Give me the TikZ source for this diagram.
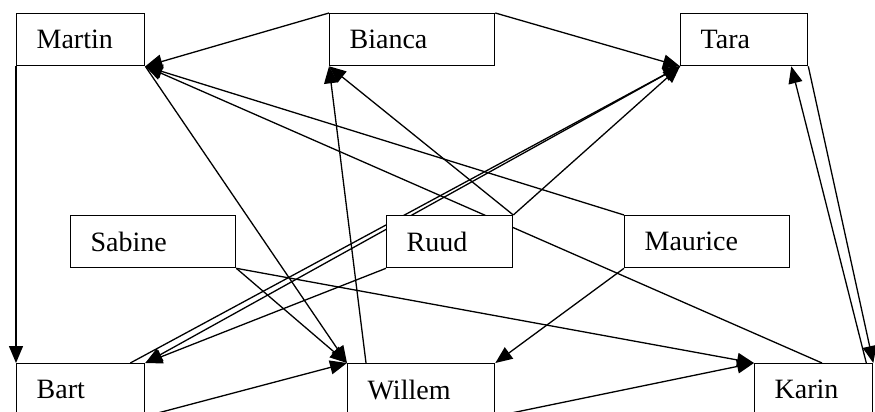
\documentclass[tikz,border=0pt]{standalone}
\usepackage{fontspec}
\setmainfont{Liberation Serif}
\usetikzlibrary{arrows.meta, backgrounds}

\begin{document}
\begin{tikzpicture}[x=1pt, y=-1pt,
        person/.style={draw, fill=white, line width=1.3pt, anchor=north west,
            minimum height=52pt, inner xsep=20pt, inner ysep=0pt, align=left,
            font=\fontsize{28}{30}\selectfont},
        rel/.style={line width=1.3pt, -{Triangle[length=17pt,width=14pt]}}]
        \useasboundingbox (0,0) rectangle (875,412);

        % top row
        \node[person, text width=88pt] (martin) at (16,13) {Martin};
        \node[person, text width=125pt] (bianca) at (329,13) {Bianca};
        \node[person, text width=87pt] (tara) at (680,13) {Tara};

        % middle row
        \node[person, text width=125pt] (sabine) at (70,215) {Sabine};
        \node[person, text width=86pt] (ruud) at (386,215) {Ruud};
        \node[person, text width=125pt] (maurice) at (624,215) {Maurice};

        % bottom row
        \node[person, text width=88pt] (bart) at (16,363) {Bart};
        \node[person, text width=107pt] (willem) at (347,363) {Willem};
        \node[person, text width=78pt] (karin) at (754,363) {Karin};

        \begin{pgfonlayer}{background}
        \draw[rel] (bianca.north west) -- (martin.south east);
        \draw[rel] (bianca.north east) -- (tara.south west);
        \draw[rel] (martin.south west) -- (bart.north west);
        \draw[rel] (maurice.north west) -- (martin.south east);
        \draw[rel] ([xshift=68pt]karin.north west) -- (martin.south east);
        \draw[rel] (martin.south east) -- (willem.north west);
        \draw[rel] ([xshift=19pt]willem.north west) -- (bianca.south west);
        \draw[rel] (ruud.north east) -- (bianca.south west);
        \draw[rel] (ruud.north east) -- (tara.south west);
        \draw[rel] ([xshift=-15pt]bart.north east) -- (tara.south west);
        \draw[rel] (tara.south west) -- (bart.north east);
        \draw[rel] (ruud.south west) -- (bart.north east);
        \draw[rel] (tara.south east) -- (karin.north east);
        \draw[rel] ([xshift=-7pt]karin.north east) -- ([xshift=-17pt]tara.south east);
        \draw[rel] (sabine.south east) -- (willem.north west);
        \draw[rel] (sabine.south east) -- (karin.north west);
        \draw[rel] (maurice.south west) -- (willem.north east);
        \draw[rel] (bart.south east) -- (willem.north west);
        \draw[rel] (willem.south east) -- (karin.north west);
        \end{pgfonlayer}
    \end{tikzpicture}
\end{document}
